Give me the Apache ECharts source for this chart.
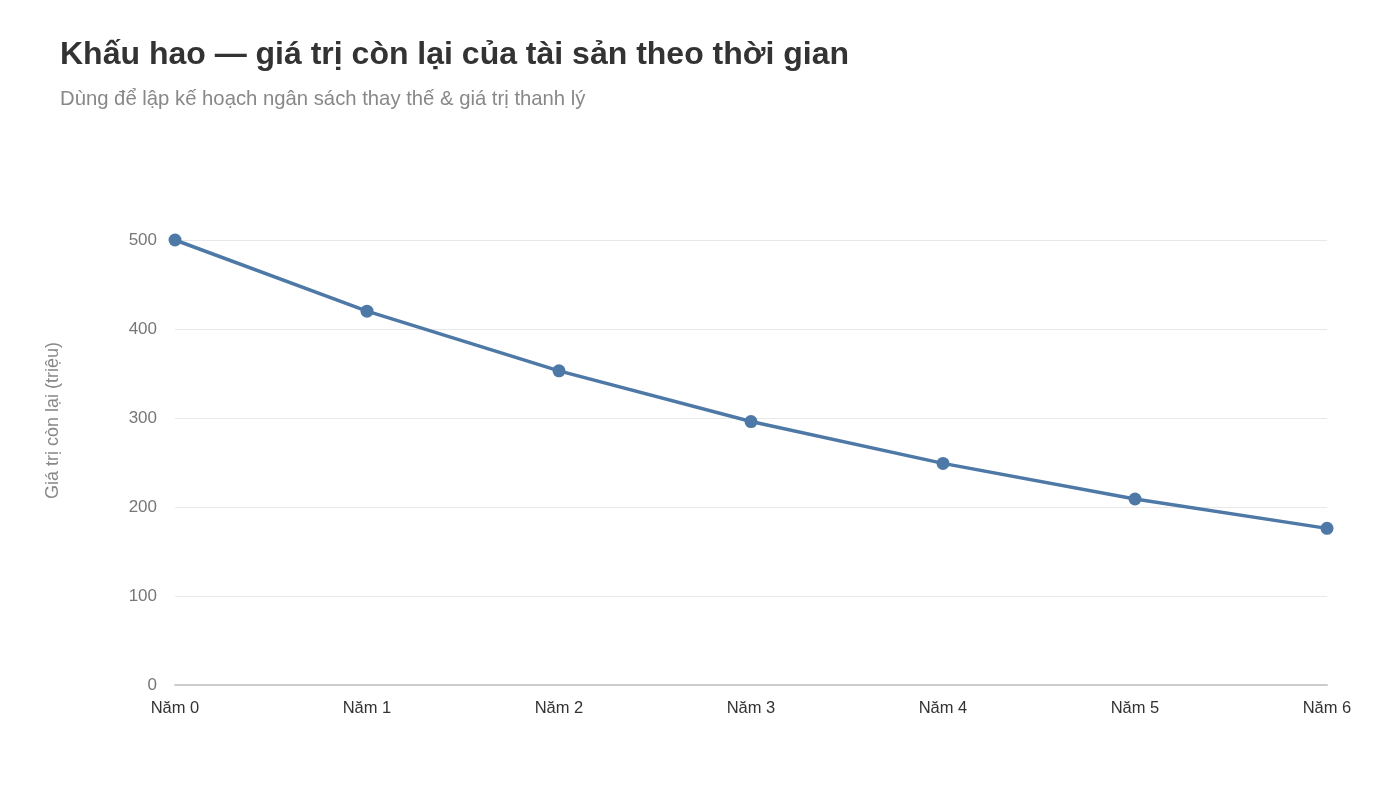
<!DOCTYPE html>
<html lang="vi">
<head>
    <meta charset="UTF-8">
    <title>Khấu hao</title>
    <script src="https://cdn.jsdelivr.net/npm/echarts@6/dist/echarts.min.js"></script>
    <style>
        html, body { margin: 0; padding: 0; background: #fff; }
        #chart { width: 1400px; height: 787px; }
    </style>
</head>
<body>
<div id="chart"></div>
<script>
    // dữ liệu: giá trị còn lại theo năm (triệu)
    var years = ['Năm 0', 'Năm 1', 'Năm 2', 'Năm 3', 'Năm 4', 'Năm 5', 'Năm 6']
    var residualValues = [500, 420, 353, 296, 249, 209, 176]
    var yTicks = { min: 0, max: 500, interval: 100 }

    var font = '"Liberation Sans", Arial, Helvetica, sans-serif'
    var chart = echarts.init(document.getElementById('chart'))

    var option = {
        backgroundColor: '#fff',
        title: {
            text: 'Khấu hao — giá trị còn lại của tài sản theo thời gian',
            subtext: 'Dùng để lập kế hoạch ngân sách thay thế & giá trị thanh lý',
            left: 55,
            top: 34,
            itemGap: 18,
            textStyle: { fontFamily: font, fontSize: 32, fontWeight: 'bold', color: '#333' },
            subtextStyle: { fontFamily: font, fontSize: 20.3, color: '#888' }
        },
        grid: { left: 175, right: 73, top: 240, bottom: 102 },
        xAxis: {
            type: 'category',
            data: years,
            boundaryGap: false,
            axisLine: { lineStyle: { color: '#ccc', width: 2 } },
            axisTick: { show: false },
            axisLabel: { fontFamily: font, fontSize: 16.5, color: '#333', margin: 15 }
        },
        yAxis: {
            type: 'value',
            min: yTicks.min,
            max: yTicks.max,
            interval: yTicks.interval,
            name: 'Giá trị còn lại (triệu)',
            nameLocation: 'middle',
            nameGap: 113,
            nameTextStyle: { fontFamily: font, fontSize: 18, color: '#888', padding: [0, 0, 0, 84] },
            axisLine: { show: false },
            axisTick: { show: false },
            axisLabel: { fontFamily: font, fontSize: 17, color: '#777', margin: 18 },
            splitLine: { lineStyle: { color: '#e8e8e8', width: 1 } }
        },
        series: [{
            type: 'line',
            data: residualValues,
            symbol: 'circle',
            symbolSize: 13,
            lineStyle: { color: '#4e79a7', width: 3.5 },
            itemStyle: { color: '#4e79a7' },
            animation: false
        }]
    }
    chart.setOption(option)
</script>
</body>
</html>
